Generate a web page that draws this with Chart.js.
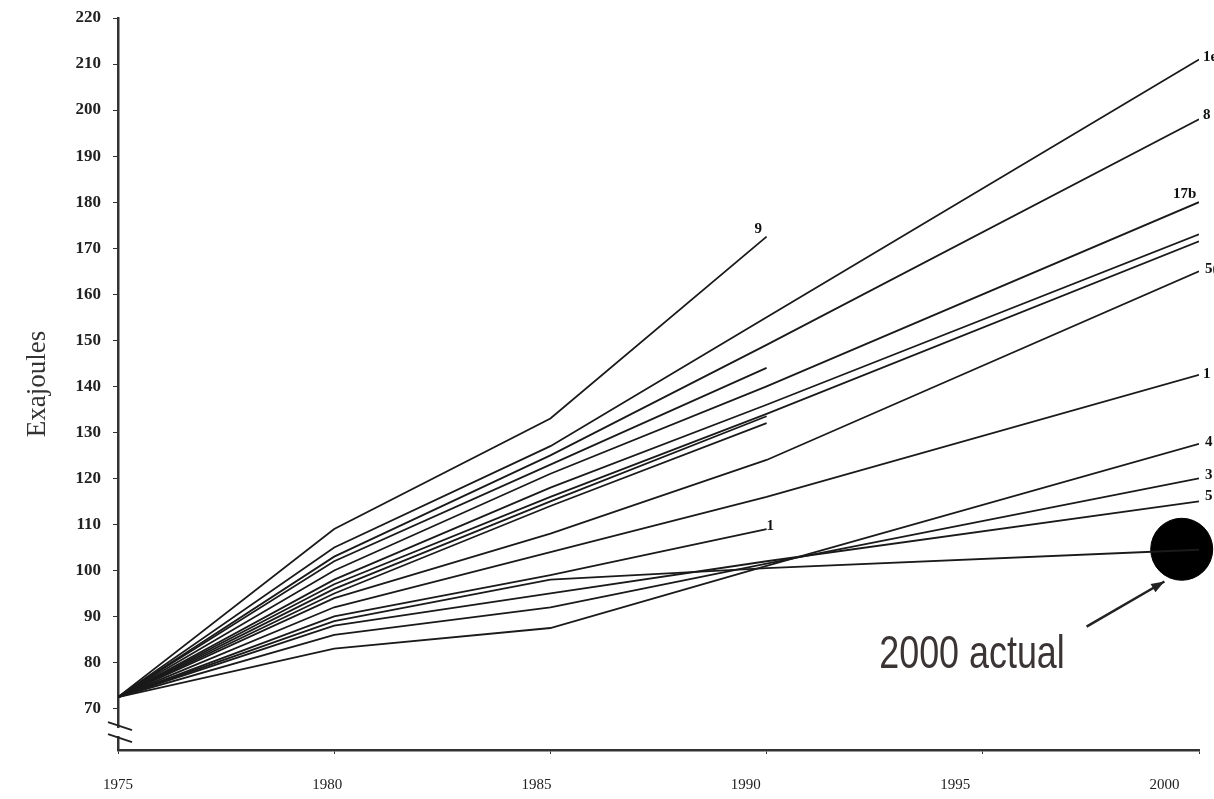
<!DOCTYPE html>
<html>
<head>
<meta charset="utf-8">
<script src="https://cdn.jsdelivr.net/npm/chart.js@4"></script>
<style>
  html, body { margin: 0; padding: 0; background: #fff; }
  #wrap { width: 1214px; height: 799px; }
</style>
</head>
<body>
<div id="wrap"><canvas id="energy-chart" width="1214" height="799"></canvas></div>
<script>
// forecast years
const years = [1975, 1980, 1985, 1990, 2000]
const shortYears = [1975, 1980, 1985, 1990]

// forecasts running to 2000
const f1e = [72.5, 105, 127, 155, 211]
const f8 = [72.5, 103, 125, 149, 198]
const f17b = [72.5, 100, 121, 140, 180]
const fD = [72.5, 98, 118, 136, 173]
const fE = [72.5, 97, 116, 134, 171.5]
const f5p = [72.5, 94, 108, 124, 165]
const f1 = [72.5, 92, 104, 116, 142.5]
const f4 = [72.5, 83, 87.5, 101, 127.5]
const f3 = [72.5, 86, 92, 101.5, 120]
const f5 = [72.5, 88, 95, 102, 115]
const actualLine = [72.5, 89, 98, 100.5, 104.5]

// forecasts ending in 1990
const f9 = [72.5, 109, 133, 172.5]
const fM = [72.5, 102, 123, 144]
const fN = [72.5, 96, 115, 133.5]
const fO = [72.5, 95, 114, 132]
const f1short = [72.5, 90, 99, 109]

// the 2000 actual value
const actualYear = [1999.6]
const actualValue = [104.6]

const yTicks = [70, 80, 90, 100, 110, 120, 130, 140, 150, 160, 170, 180, 190, 200, 210, 220]
const xTicks = [1975, 1980, 1985, 1990, 1995, 2000]

const series = [
  { name: "1e", xs: years, ys: f1e, dx: 4, dy: -2 },
  { name: "8", xs: years, ys: f8, dx: 4, dy: -4 },
  { name: "17b", xs: years, ys: f17b, dx: -26, dy: -8 },
  { name: "", xs: years, ys: fD },
  { name: "", xs: years, ys: fE },
  { name: "5(", xs: years, ys: f5p, dx: 6, dy: -2 },
  { name: "1", xs: years, ys: f1, dx: 4, dy: -1 },
  { name: "4", xs: years, ys: f4, dx: 6, dy: -2 },
  { name: "3", xs: years, ys: f3, dx: 6, dy: -3 },
  { name: "5", xs: years, ys: f5, dx: 6, dy: -5 },
  { name: "", xs: years, ys: actualLine },
  { name: "9", xs: shortYears, ys: f9, dx: -12, dy: -8 },
  { name: "", xs: shortYears, ys: fM },
  { name: "", xs: shortYears, ys: fN },
  { name: "", xs: shortYears, ys: fO },
  { name: "1", xs: shortYears, ys: f1short, dx: 0, dy: -3 }
]

const datasets = series.map(s => ({
  label: s.name,
  data: s.xs.map((x, i) => ({ x, y: s.ys[i] })),
  borderColor: "#1a1a1a",
  borderWidth: 1.8,
  pointRadius: 0,
  tension: 0,
  fill: false,
  endDx: s.dx,
  endDy: s.dy
}))

datasets.push({
  label: "2000 actual",
  type: "scatter",
  data: actualYear.map((x, i) => ({ x, y: actualValue[i] })),
  backgroundColor: "#000",
  borderColor: "#000",
  pointRadius: 31,
  clip: false
})

const serif = "'Liberation Serif', 'DejaVu Serif', serif"

const extras = {
  id: "extras",
  afterDatasetsDraw(chart) {
    const ctx = chart.ctx
    const xs = chart.scales.x
    const ys = chart.scales.y
    ctx.save()

    // end-of-line labels
    ctx.fillStyle = "#111"
    ctx.font = "bold 15px " + serif
    ctx.textBaseline = "middle"
    chart.data.datasets.forEach(ds => {
      if (!ds.label || ds.type === "scatter") return
      const last = ds.data[ds.data.length - 1]
      ctx.fillText(ds.label, xs.getPixelForValue(last.x) + ds.endDx, ys.getPixelForValue(last.y) + ds.endDy)
    })

    // year labels: the scan sits them a little left of their ticks, more so to the right
    ctx.fillStyle = "#222"
    ctx.font = "15px " + serif
    ctx.textAlign = "center"
    xTicks.forEach(v => {
      const px = xs.getPixelForValue(v)
      ctx.fillText(String(v), xs.left + (px - xs.left) * 0.968, xs.top + 35)
    })

    // "2000 actual" note (narrow, like the scan) and arrow
    const tx = xs.getPixelForValue(1994.75)
    const ty = ys.getPixelForValue(81.6)
    ctx.save()
    ctx.translate(tx, ty)
    ctx.scale(0.78, 1)
    ctx.fillStyle = "#3b3434"
    ctx.font = "46px 'Liberation Sans', Arial, sans-serif"
    ctx.textAlign = "center"
    ctx.fillText("2000 actual", 0, 0)
    ctx.restore()

    const ax0 = xs.getPixelForValue(1997.4), ay0 = ys.getPixelForValue(87.8)
    const ax1 = xs.getPixelForValue(1999.2), ay1 = ys.getPixelForValue(97.6)
    ctx.strokeStyle = "#222"
    ctx.lineWidth = 2.5
    ctx.beginPath()
    ctx.moveTo(ax0, ay0)
    ctx.lineTo(ax1, ay1)
    ctx.stroke()
    const ang = Math.atan2(ay1 - ay0, ax1 - ax0)
    ctx.fillStyle = "#222"
    ctx.beginPath()
    ctx.moveTo(ax1, ay1)
    ctx.lineTo(ax1 - 14 * Math.cos(ang - 0.35), ay1 - 14 * Math.sin(ang - 0.35))
    ctx.lineTo(ax1 - 14 * Math.cos(ang + 0.35), ay1 - 14 * Math.sin(ang + 0.35))
    ctx.closePath()
    ctx.fill()

    // axis break marks
    const bx = xs.left
    const b1 = ys.getPixelForValue(66.2)
    const b2 = ys.getPixelForValue(63.6)
    ctx.fillStyle = "#fff"
    ctx.fillRect(bx - 2, b1 + 2, 4, b2 - b1 - 4)
    ctx.strokeStyle = "#222"
    ctx.lineWidth = 1.8
    ;[b1, b2].forEach(b => {
      ctx.beginPath()
      ctx.moveTo(bx - 10, b - 4)
      ctx.lineTo(bx + 14, b + 4)
      ctx.stroke()
    })
    ctx.restore()
  }
}

new Chart(document.getElementById("energy-chart"), {
  type: "line",
  data: { datasets },
  options: {
    responsive: false,
    animation: false,
    layout: { autoPadding: false, padding: { top: 18, right: 15, left: 0, bottom: 0 } },
    plugins: { legend: { display: false }, tooltip: { enabled: false } },
    scales: {
      x: {
        type: "linear",
        min: 1975,
        max: 2000,
        afterBuildTicks: s => { s.ticks = xTicks.map(v => ({ value: v })) },
        afterFit: s => { s.height = 49; s.paddingLeft = 0; s.paddingRight = 0 },
        ticks: { display: false },
        grid: { drawOnChartArea: false, drawTicks: true, tickLength: 4, color: "#333" },
        border: { display: true, color: "#333", width: 2.5 }
      },
      y: {
        min: 61,
        max: 220,
        afterBuildTicks: s => { s.ticks = yTicks.map(v => ({ value: v })) },
        afterFit: s => { s.width = 118; s.paddingTop = 0; s.paddingBottom = 0 },
        ticks: {
          color: "#222",
          font: { family: serif, size: 17, weight: "bold" },
          padding: 12
        },
        title: {
          display: true,
          text: "Exajoules",
          color: "#333",
          font: { family: serif, size: 27 },
          padding: { top: 22, bottom: 0 }
        },
        grid: { drawOnChartArea: false, drawTicks: true, tickLength: 5, color: "#333" },
        border: { display: true, color: "#333", width: 2.5 }
      }
    }
  },
  plugins: [extras]
})
</script>
</body>
</html>
